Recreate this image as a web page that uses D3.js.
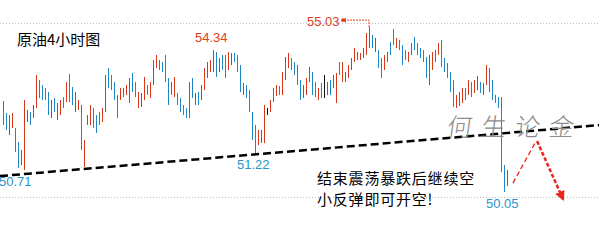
<!DOCTYPE html>
<html>
<head>
<meta charset="utf-8">
<script src="https://d3js.org/d3.v7.min.js"></script>
<style>
  html, body { margin: 0; padding: 0; background: #fff; }
  svg { display: block; }
</style>
</head>
<body>
<div id="chart"></div>
<script>
// 4h crude oil bars (high / low)
var highs = [52.80, 52.43, 52.37, 52.43, 51.98, 51.56, 51.31, 52.83, 52.52, 52.46,
  52.67, 53.58, 53.43, 53.28, 53.19, 53.07, 52.83, 52.89, 52.73, 52.83,
  52.92, 53.37, 53.61, 53.22, 53.07, 52.83, 52.67, 51.62, 52.37, 52.67,
  52.58, 52.37, 52.46, 52.58, 53.58, 53.79, 53.58, 53.37, 52.98, 53.19,
  53.19, 53.28, 53.49, 53.64, 53.37, 53.07, 53.04, 53.52, 53.28, 53.37,
  54.03, 54.18, 54.03, 53.97, 54.18, 53.49, 53.37, 53.52, 53.04, 52.89,
  52.67, 52.58, 53.37, 53.49, 53.04, 53.07, 53.28, 53.79, 53.97, 54.03,
  54.34, 54.27, 54.09, 54.18, 54.18, 54.27, 54.24, 54.24, 54.18, 53.88,
  53.34, 53.28, 53.13, 52.46, 52.07, 51.92, 51.92, 52.67, 52.58, 52.83,
  53.19, 53.28, 53.25, 53.67, 54.12, 54.24, 54.09, 53.97, 53.88, 53.43,
  53.28, 53.49, 53.82, 53.67, 53.37, 53.19, 53.34, 53.58, 53.37, 53.43,
  53.58, 53.64, 53.97, 53.97, 53.67, 53.88, 54.09, 54.40, 54.27, 54.24,
  54.40, 54.85, 55.03, 54.79, 54.70, 54.34, 54.09, 54.18, 54.27, 54.58,
  54.97, 54.70, 54.64, 54.49, 54.34, 54.27, 54.55, 54.73, 54.55, 54.40,
  54.34, 54.12, 54.18, 54.27, 54.34, 54.55, 54.64, 54.09, 53.94, 53.67,
  53.43, 52.98, 53.07, 53.19, 53.19, 53.43, 53.37, 53.43, 53.55, 53.37,
  53.34, 53.88, 53.79, 53.43, 52.98, 52.92, 52.92, 50.86, 50.71];

var lows = [52.07, 51.92, 51.77, 51.98, 51.25, 50.77, 50.86, 50.71, 52.16, 52.07,
  52.28, 52.58, 52.89, 52.83, 52.83, 52.37, 52.28, 52.46, 52.22, 52.37,
  52.58, 52.76, 52.76, 52.67, 52.46, 52.52, 51.31, 50.80, 52.07, 52.07,
  51.98, 51.83, 52.07, 52.16, 52.46, 53.19, 53.13, 52.83, 52.28, 52.83,
  52.92, 52.98, 52.73, 53.07, 52.92, 52.58, 52.61, 52.83, 52.98, 52.89,
  53.28, 53.79, 53.73, 53.67, 53.37, 52.67, 52.98, 52.92, 52.67, 52.46,
  52.37, 52.28, 52.28, 52.89, 52.67, 52.67, 52.83, 53.13, 53.49, 53.67,
  53.67, 53.52, 53.67, 53.73, 53.49, 53.73, 53.88, 53.97, 53.67, 53.07,
  52.98, 52.89, 52.46, 51.62, 51.22, 51.47, 51.53, 51.53, 52.37, 52.46,
  52.76, 52.95, 52.98, 52.98, 53.43, 53.79, 53.73, 53.58, 53.28, 52.83,
  52.89, 52.98, 53.37, 52.98, 52.92, 52.83, 52.89, 52.89, 52.98, 52.98,
  53.19, 52.73, 53.58, 53.37, 53.37, 53.49, 53.73, 53.97, 54.03, 54.03,
  54.09, 54.18, 54.40, 54.40, 54.27, 53.79, 53.49, 53.73, 53.97, 54.18,
  54.49, 54.40, 54.34, 53.88, 54.03, 53.97, 54.18, 54.34, 54.18, 54.09,
  53.97, 53.49, 53.28, 53.73, 53.97, 54.18, 53.82, 53.67, 53.49, 53.07,
  52.61, 52.58, 52.64, 52.73, 52.83, 52.98, 52.92, 53.04, 53.13, 53.04,
  52.98, 53.28, 53.07, 52.83, 52.73, 52.58, 50.65, 50.05, 50.23];

// u = up bar (red), d = down bar (blue), n = flat bar (black)
var dirFlags = [
  "d","d","u","u","d","d","u","u","u","d",
  "u","u","d","d","d","d","u","d","u","u",
  "d","u","d","d","u","u","d","u","u","u",
  "d","d","d","u","u","d","d","d","d","u",
  "u","u","u","d","d","u","u","u","d","u",
  "u","u","d","d","d","d","u","u","d","d",
  "d","d","u","d","u","d","u","u","u","u",
  "u","d","u","d","d","u","u","d","d","d",
  "u","d","d","d","d","u","u","u","n","u",
  "u","u","d","u","u","u","d","d","d","d",
  "u","u","u","d","d","u","d","n","u","d",
  "u","u","d","u","u","u","u","u","u","u",
  "u","u","u","d","u","d","d","u","u","d",
  "d","u","d","d","d","u","u","d","d","d",
  "d","d","u","u","u","u","d","d","d","d",
  "d","u","u","u","d","u","d","u","u","d",
  "u","u","d","d","d","d","d","d","u"];

var priceLabels = [
  { bar: 7,   text: "50.71", kind: "low" },
  { bar: 70,  text: "54.34", kind: "high" },
  { bar: 84,  text: "51.22", kind: "low" },
  { bar: 122, text: "55.03", kind: "top" },
  { bar: 167, text: "50.05", kind: "low" }
];

var gridLevels = [55.15, 49.89];
var trendStart = [-1, 50.53], trendEnd = [198.7, 52.07];
var arrowPts = [[170, 50.32], [177.7, 51.59], [186.7, 49.83]];

var title = "原油4小时图";
var noteLines = ["结束震荡暴跌后继续空", "小反弹即可开空!"];
var watermark = "何生论金";

var W = 599, H = 240;
var red = "#d8381a", blue = "#1e88c6";
var colorOf = { u: red, d: blue, n: "#111" };

var svg = d3.select("#chart").append("svg")
    .attr("width", W).attr("height", H);

var x = d3.scaleLinear().domain([0, highs.length - 1]).range([3, 3 + 3 * (highs.length - 1)]);
var y = d3.scaleLinear().domain([48.6, 55.85]).range([H, 0]);

// dotted grid lines
svg.selectAll("line.grid").data(gridLevels).enter().append("line")
    .attr("class", "grid")
    .attr("x1", 0).attr("x2", W)
    .attr("y1", function (d) { return Math.round(y(d)) + 0.5; })
    .attr("y2", function (d) { return Math.round(y(d)) + 0.5; })
    .attr("stroke", "#bdbdbd")
    .attr("stroke-width", 1)
    .attr("stroke-dasharray", "1,2");

// bars
svg.selectAll("line.bar").data(highs).enter().append("line")
    .attr("class", "bar")
    .attr("x1", function (d, i) { return Math.round(x(i)) + 0.5; })
    .attr("x2", function (d, i) { return Math.round(x(i)) + 0.5; })
    .attr("y1", function (d) { return Math.round(y(d)); })
    .attr("y2", function (d, i) { return Math.round(y(lows[i])); })
    .attr("stroke", function (d, i) { return colorOf[dirFlags[i]] || blue; })
    .attr("stroke-width", 1)
    .attr("shape-rendering", "crispEdges");

// trend line
svg.append("line")
    .attr("x1", x(trendStart[0])).attr("y1", y(trendStart[1]))
    .attr("x2", x(trendEnd[0])).attr("y2", y(trendEnd[1]))
    .attr("stroke", "#000")
    .attr("stroke-width", 2.5)
    .attr("stroke-dasharray", "8,4");

// watermark
svg.append("text")
    .attr("x", x(arrowPts[0][0]) - 66)
    .attr("y", y(trendEnd[1]) + 11)
    .text(watermark)
    .attr("font-family", "Noto Sans CJK SC")
    .attr("font-weight", 300)
    .attr("font-size", "25px")
    .attr("letter-spacing", "9px")
    .attr("fill", "#8c8c8c")
    .attr("transform", "skewX(-8)")
    .attr("transform-origin", "500 130");

// price labels
priceLabels.forEach(function (p) {
    var bx = x(p.bar);
    var isLow = p.kind === "low";
    var val = isLow ? lows[p.bar] : highs[p.bar];
    var ty = isLow ? y(val) + 16 : (p.kind === "top" ? y(val) - 1 : y(val) - 8);
    var tx = p.kind === "top" ? bx - 62 : bx - 18;
    if (p.bar === 7) tx = bx - 25;
    svg.append("text")
        .attr("x", tx).attr("y", ty)
        .text(p.text)
        .attr("font-family", "Liberation Sans, Arial")
        .attr("font-size", "13px")
        .attr("fill", isLow ? "#2a93c9" : "#e0401c");
    if (p.kind === "top") {
        var yy = y(val) - 7;
        svg.append("path")
            .attr("d", "M" + (bx - 25) + "," + yy + "H" + bx + "V" + y(val))
            .attr("fill", "none")
            .attr("stroke", "#e0401c")
            .attr("stroke-width", 1)
            .attr("stroke-dasharray", "2,1");
        svg.append("path")
            .attr("d", "M" + (bx - 27) + "," + yy + "l4,-2.5v5z")
            .attr("fill", "#e0401c");
        svg.append("circle")
            .attr("cx", bx - 26).attr("cy", yy).attr("r", 1.8)
            .attr("fill", "#e0401c");
    }
});

// title
svg.append("text")
    .attr("x", 17).attr("y", 45)
    .text(title)
    .attr("font-family", "Noto Sans CJK SC")
    .attr("font-size", "15px")
    .attr("fill", "#000");

// note, two lines
svg.selectAll("text.note").data(noteLines).enter().append("text")
    .attr("class", "note")
    .attr("x", 317)
    .attr("y", function (d, i) { return 184 + i * 21; })
    .text(function (d) { return d; })
    .attr("font-family", "Noto Sans CJK SC")
    .attr("font-size", "15px")
    .attr("letter-spacing", "0.8px")
    .attr("fill", "#000");

// red arrow
svg.append("defs").append("marker")
    .attr("id", "ah")
    .attr("viewBox", "0 0 10 10")
    .attr("refX", 8).attr("refY", 5)
    .attr("markerWidth", 4).attr("markerHeight", 4)
    .attr("orient", "auto")
    .append("path").attr("d", "M0,0L10,5L0,10z").attr("fill", "#e8261c");

svg.append("line")
    .attr("x1", x(arrowPts[0][0])).attr("y1", y(arrowPts[0][1]))
    .attr("x2", x(arrowPts[1][0])).attr("y2", y(arrowPts[1][1]))
    .attr("stroke", "#e8261c")
    .attr("stroke-width", 1.3)
    .attr("stroke-dasharray", "5,3");

svg.append("line")
    .attr("x1", x(arrowPts[1][0]) + 1).attr("y1", y(arrowPts[1][1]))
    .attr("x2", x(arrowPts[2][0])).attr("y2", y(arrowPts[2][1]))
    .attr("stroke", "#e8261c")
    .attr("stroke-width", 2.5)
    .attr("stroke-dasharray", "4,2")
    .attr("marker-end", "url(#ah)");
</script>
</body>
</html>
